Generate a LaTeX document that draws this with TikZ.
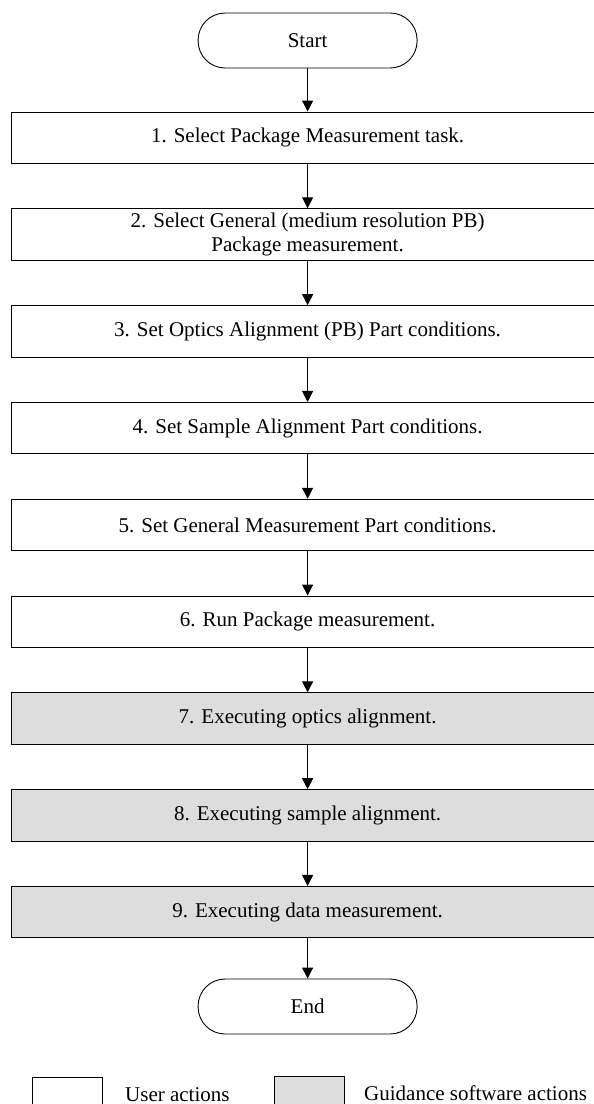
\documentclass[tikz,border=0pt]{standalone}
\usepackage{fontspec}
\setmainfont{Liberation Serif}
\usetikzlibrary{arrows.meta}
\definecolor{softgray}{RGB}{221,221,221}
\begin{document}
\begin{tikzpicture}[x=1pt,y=-1pt,
  every node/.style={font=\fontsize{21}{24}\selectfont, inner sep=0pt},
  stepbox/.style={draw=black, line width=1pt, minimum width=592pt, minimum height=51.5pt, align=center, fill=white},
  autobox/.style={stepbox, fill=softgray},
  terminal/.style={draw=black, line width=0.9pt, rounded corners=27pt, minimum width=219pt, minimum height=55pt, fill=white},
  legendbox/.style={draw=black, line width=1pt, minimum width=70pt, minimum height=40pt, anchor=north west},
  flow/.style={line width=1pt, -{Triangle[width=11pt,length=11pt]}}]
\useasboundingbox (0,0) rectangle (594,1104);
\fill[white] (0,0) rectangle (594,1104);

% terminals and process steps
\node[terminal] (start) at (307.6,40.5) {Start};
\node[stepbox] (s1) at (307.6,137.75) {1. Select Package Measurement task.};
\node[stepbox] (s2) at (307.6,234.5) {2. Select General (medium resolution PB)\\Package measurement.};
\node[stepbox] (s3) at (307.6,331.4) {3. Set Optics Alignment (PB) Part conditions.};
\node[stepbox] (s4) at (307.6,428.2) {4. Set Sample Alignment Part conditions.};
\node[stepbox] (s5) at (307.6,525) {5. Set General Measurement Part conditions.};
\node[stepbox] (s6) at (307.6,621.8) {6. Run Package measurement.};
\node[autobox] (s7) at (307.6,718.6) {7. Executing optics alignment.};
\node[autobox] (s8) at (307.6,815.4) {8. Executing sample alignment.};
\node[autobox] (s9) at (307.6,912.2) {9. Executing data measurement.};
\node[terminal] (end) at (307.6,1006.5) {End};

% flow arrows
\draw[flow] (start) -- (s1);
\draw[flow] (s1) -- (s2);
\draw[flow] (s2) -- (s3);
\draw[flow] (s3) -- (s4);
\draw[flow] (s4) -- (s5);
\draw[flow] (s5) -- (s6);
\draw[flow] (s6) -- (s7);
\draw[flow] (s7) -- (s8);
\draw[flow] (s8) -- (s9);
\draw[flow] (s9) -- (end);

% legend
\node[legendbox, fill=white] (leguser) at (31.5,1076.5) {};
\node[anchor=base west] (legusertext) at (125,1101) {User actions};
\node[legendbox, fill=softgray] (legsoft) at (274,1076) {};
\node[anchor=base west] (legsofttext) at (364,1100.5) {Guidance software actions};
\end{tikzpicture}
\end{document}
